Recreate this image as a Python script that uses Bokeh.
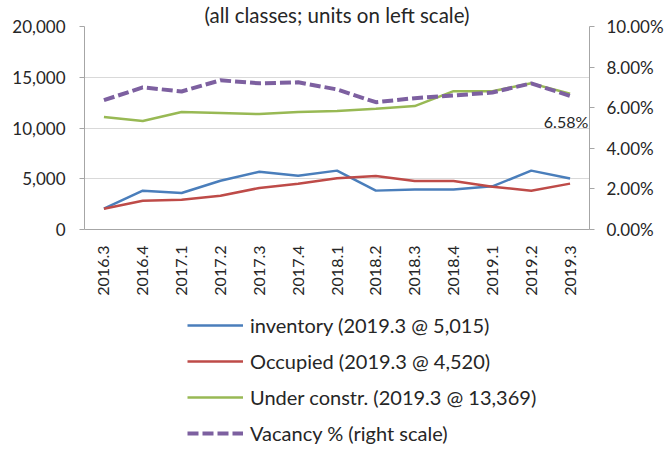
import numpy as np
from bokeh.plotting import figure
from bokeh.layouts import column
from bokeh.models import (Range1d, LinearAxis, Legend, LegendItem, LabelSet,
                          NumeralTickFormatter, PrintfTickFormatter, FixedTicker,
                          ColumnDataSource)
from bokeh.core.properties import value
from bokeh.embed import file_html
from bokeh.resources import INLINE

# ---- data ----
quarters = ["2016.3", "2016.4", "2017.1", "2017.2", "2017.3", "2017.4", "2018.1",
            "2018.2", "2018.3", "2018.4", "2019.1", "2019.2", "2019.3"]
inventory = [2050, 3820, 3600, 4800, 5690, 5300, 5800, 3830, 3950, 3950, 4250, 5800, 5015]
occupied = [2050, 2840, 2940, 3330, 4090, 4500, 5050, 5260, 4770, 4770, 4220, 3820, 4520]
under_constr = [11080, 10690, 11570, 11470, 11370, 11570, 11670, 11900, 12160, 13630, 13630, 14400, 13369]
vacancy_pct = [6.37, 7.00, 6.80, 7.35, 7.20, 7.25, 6.90, 6.27, 6.47, 6.60, 6.75, 7.20, 6.58]
left_ticks = [0, 5000, 10000, 15000, 20000]
right_ticks = [0, 2, 4, 6, 8, 10]
subtitle = "(all classes; units on left scale)"
legend_labels = ["inventory (2019.3 @ 5,015)", "Occupied (2019.3 @ 4,520)",
                 "Under constr. (2019.3 @ 13,369)", "Vacancy % (right scale)"]

FONT = "Lato"
TXT = "#262626"
AX = "#a6a6a6"
COLORS = ["#4A7EBB", "#BE4B48", "#98B954", "#7D60A0"]

W = 668
H1, H2 = 300, 157
LEFT, TOP, FW, FH = 84, 26, 505, 203

src = ColumnDataSource(dict(q=quarters, inv=inventory, occ=occupied,
                            uc=under_constr, vac=vacancy_pct))

p = figure(x_range=quarters, y_range=Range1d(0, 20000),
           width=W, height=H1,
           output_backend="svg", toolbar_location=None,
           min_border_left=LEFT, min_border_right=W - LEFT - FW,
           min_border_top=TOP, min_border_bottom=H1 - TOP - FH)
p.outline_line_color = None
p.background_fill_color = "white"

p.title.text = subtitle
p.title.align = "center"
p.title.text_font = FONT
p.title.text_font_style = "normal"
p.title.text_font_size = "20.5px"
p.title.text_color = TXT
p.title.standoff = 0
p.title.text_line_height = 1.0

p.extra_y_ranges = {"pct": Range1d(0, 10)}

# left axis
ya = p.yaxis[0]
ya.ticker = FixedTicker(ticks=left_ticks)
ya.formatter = NumeralTickFormatter(format="0,0")
ya.axis_line_color = AX
ya.major_tick_line_color = AX
ya.major_tick_out = 5
ya.major_tick_in = 0
ya.minor_tick_line_color = None
ya.major_label_standoff = 14
ya.major_label_text_font = FONT
ya.major_label_text_font_size = "17px"
ya.major_label_text_color = TXT

# right axis
ra = LinearAxis(y_range_name="pct", ticker=FixedTicker(ticks=right_ticks),
                formatter=PrintfTickFormatter(format="%.2f%%"))
ra.axis_line_color = AX
ra.major_tick_line_color = AX
ra.major_tick_out = 5
ra.major_tick_in = 0
ra.minor_tick_line_color = None
ra.major_label_standoff = 12
ra.major_label_text_font = FONT
ra.major_label_text_font_size = "17px"
ra.major_label_text_color = TXT
p.add_layout(ra, "right")

# x axis
xa = p.xaxis[0]
xa.axis_line_color = AX
xa.major_tick_line_color = None
xa.major_label_orientation = np.pi / 2
xa.major_label_standoff = 10
xa.major_label_text_font = FONT
xa.major_label_text_font_size = "16px"
xa.major_label_text_color = TXT

p.xgrid.grid_line_color = None
p.ygrid.grid_line_color = "#d9d9d9"
p.ygrid.ticker = FixedTicker(ticks=left_ticks)

p.line("q", "inv", source=src, line_color=COLORS[0], line_width=2.5)
p.line("q", "occ", source=src, line_color=COLORS[1], line_width=2.5)
p.line("q", "uc", source=src, line_color=COLORS[2], line_width=2.5)
p.line("q", "vac", source=src, y_range_name="pct", line_color=COLORS[3],
       line_width=4, line_dash="11 4")

# data label for last vacancy value
last = ColumnDataSource(dict(q=[quarters[-1]], v=[vacancy_pct[-1]],
                             t=["%.2f%%" % vacancy_pct[-1]]))
p.add_layout(LabelSet(x="q", y="v", text="t", source=last, y_range_name="pct",
                      x_offset=-4, y_offset=-26, text_font=value(FONT),
                      text_font_size=value("16px"), text_color=TXT,
                      text_baseline="middle", text_align="center"))

# ---- legend strip below the chart (its frame is aligned with the chart's) ----
lg = figure(width=W, height=H2, output_backend="svg", toolbar_location=None,
            x_range=Range1d(0, 1), y_range=Range1d(0, 1),
            x_axis_location=None, y_axis_location=None,
            min_border_left=0, min_border_right=0, min_border_top=0, min_border_bottom=0)
lg.outline_line_color = None
lg.grid.visible = False
key_src = ColumnDataSource(dict(x=[np.nan], y=[np.nan]))  # legend keys only, draws nothing
k_inv = lg.line("x", "y", source=key_src, line_color=COLORS[0], line_width=2.5)
k_occ = lg.line("x", "y", source=key_src, line_color=COLORS[1], line_width=2.5)
k_uc = lg.line("x", "y", source=key_src, line_color=COLORS[2], line_width=2.5)
k_vac = lg.line("x", "y", source=key_src, line_color=COLORS[3], line_width=4,
                line_dash="11 4")

legend = Legend(items=[LegendItem(label=legend_labels[0], renderers=[k_inv]),
                       LegendItem(label=legend_labels[1], renderers=[k_occ]),
                       LegendItem(label=legend_labels[2], renderers=[k_uc]),
                       LegendItem(label=legend_labels[3], renderers=[k_vac])],
                orientation="vertical", location=(103, 12))
legend.border_line_color = None
legend.background_fill_alpha = 0
legend.label_text_font = FONT
legend.label_text_font_size = "20px"
legend.label_text_color = TXT
legend.glyph_width = 56
legend.glyph_height = 24
legend.label_height = 24
legend.spacing = 12
legend.padding = 0
legend.margin = 0
legend.label_standoff = 7
lg.add_layout(legend, "center")

layout = column(p, lg, spacing=0)
open("out.html", "w").write(file_html(layout, INLINE))
